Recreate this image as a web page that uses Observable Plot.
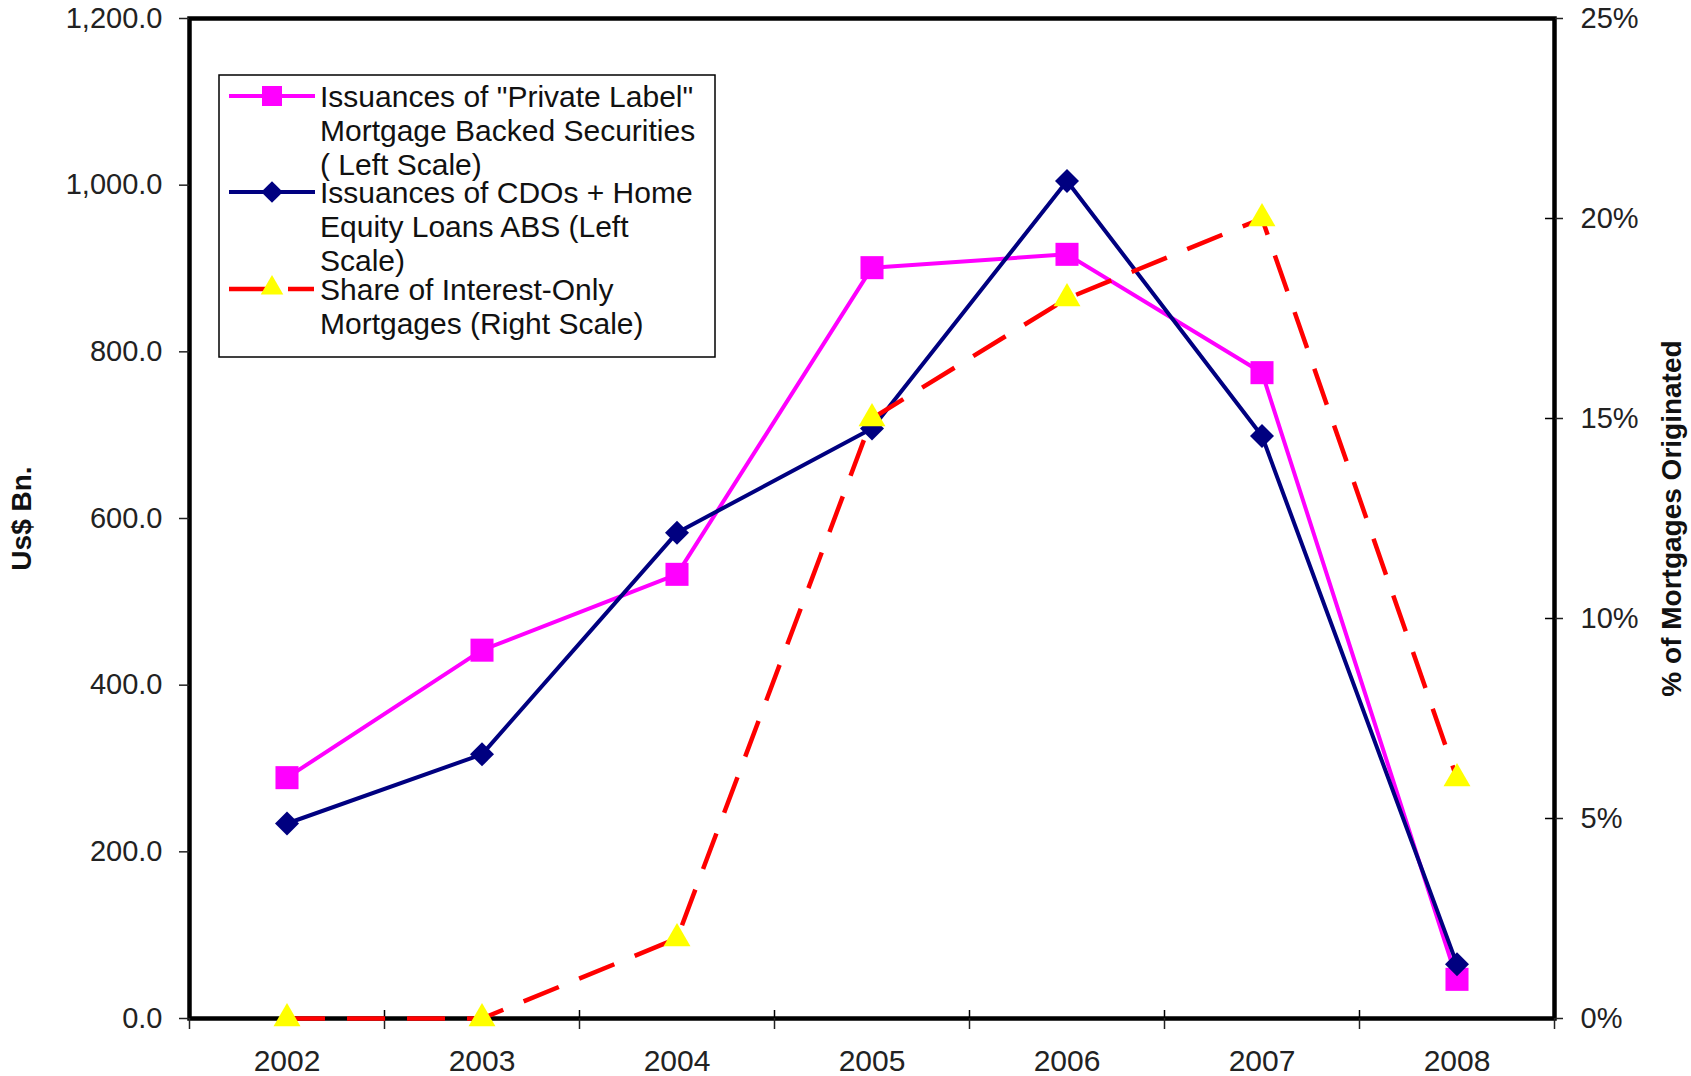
<!DOCTYPE html>
<html>
<head>
<meta charset="utf-8">
<script src="https://cdn.jsdelivr.net/npm/d3@7"></script>
<script src="https://cdn.jsdelivr.net/npm/@observablehq/plot@0.6"></script>
<style>
  html, body { margin: 0; padding: 0; background: #fff; }
  #wrap { position: relative; width: 1691px; height: 1076px; }
  #legend { position: absolute; left: 218px; top: 74px; }
</style>
</head>
<body>
<div id="wrap"><div id="chart"></div><svg id="legend" width="499" height="285"></svg></div>
<script>
// ---- data ----
const years = [2002, 2003, 2004, 2005, 2006, 2007, 2008];
const mbsIssuance = [289, 442, 533, 901, 917, 775, 47];          // US$ bn, left scale
const cdoHelIssuance = [234, 317, 583, 708, 1005, 699, 65];     // US$ bn, left scale
const interestOnlyShare = [0, 0, 2.0, 15.0, 18.0, 20.0, 6.0];   // % of mortgages, right scale
const leftTicks = [0, 200, 400, 600, 800, 1000, 1200];
const rightTicks = [0, 5, 10, 15, 20, 25];
const seriesLabels = [
  ["Issuances of \"Private Label\"", "Mortgage Backed Securities", "( Left Scale)"],
  ["Issuances of CDOs + Home", "Equity Loans ABS (Left", "Scale)"],
  ["Share of Interest-Only", "Mortgages (Right Scale)"]
];
const leftTitle = "Us$ Bn.";
const rightTitle = "% of Mortgages Originated";
const colors = {mbs: "#FF00FF", cdo: "#000080", io: "#FF0000", ioMarker: "#FFFF00"};

// ---- derived tables ----
const leftMax = d3.max(leftTicks), rightMax = d3.max(rightTicks);
const k = leftMax / rightMax; // right-scale units -> left-scale units
const mbs = years.map((y, i) => ({year: y, value: mbsIssuance[i]}));
const cdo = years.map((y, i) => ({year: y, value: cdoHelIssuance[i]}));
const io = years.map((y, i) => ({year: y, value: interestOnlyShare[i] * k}));
const boundaries = d3.range(years.length + 1).map(i => years[0] - 0.5 + i);
const xMin = boundaries[0], xMax = boundaries[boundaries.length - 1];
const rightTickPos = rightTicks.map(t => t * k);

const font = "'Liberation Sans', Arial, sans-serif";

const chart = Plot.plot({
  width: 1691, height: 1076,
  marginLeft: 189, marginRight: 137, marginTop: 18, marginBottom: 58,
  style: {fontFamily: font, fontSize: "29px", color: "#222", background: "white"},
  x: {domain: [xMin, xMax], axis: null},
  y: {domain: [0, leftMax], axis: null},
  marks: [
    Plot.frame({stroke: "black", strokeWidth: 4.5}),
    Plot.axisY(leftTicks, {anchor: "left", tickSize: 10, tickPadding: 17, strokeWidth: 1.5,
      tickFormat: d3.format(",.1f"), fontSize: 29, fill: "#222", label: null}),
    Plot.axisY(rightTickPos, {anchor: "right", tickSize: 8, tickPadding: 18, strokeWidth: 1.5,
      tickFormat: d => d3.format("d")(d / k) + "%", fontSize: 29, fill: "#222", label: null}),
    // inward halves of the right-axis ticks
    Plot.ruleY(rightTickPos, {x1: xMax, x2: xMax, insetLeft: -9, stroke: "black", strokeWidth: 1.5}),
    Plot.axisX(boundaries, {anchor: "bottom", tickSize: 11, strokeWidth: 1.5, tickFormat: () => "", label: null}),
    // upward halves of the category-boundary ticks
    Plot.ruleX(boundaries, {y1: 0, y2: 0, insetTop: -8, stroke: "black", strokeWidth: 1.5}),
    Plot.axisX(years, {anchor: "bottom", tickSize: 0, tickPadding: 31, tickFormat: d => String(d),
      fontSize: 30, fill: "#222", label: null}),
    Plot.text([leftTitle], {frameAnchor: "left", textAnchor: "middle", rotate: -90, dx: -167, text: d => d,
      fontWeight: "bold", fontSize: 28, fill: "#111"}),
    Plot.text([rightTitle], {frameAnchor: "right", textAnchor: "middle", rotate: -90, dx: 118, text: d => d,
      fontWeight: "bold", fontSize: 28, fill: "#111"}),
    Plot.line(mbs, {x: "year", y: "value", stroke: colors.mbs, strokeWidth: 4, strokeLinejoin: "miter"}),
    Plot.dot(mbs, {x: "year", y: "value", symbol: "square", r: 13, fill: colors.mbs, stroke: null}),
    Plot.line(cdo, {x: "year", y: "value", stroke: colors.cdo, strokeWidth: 4, strokeLinejoin: "miter"}),
    Plot.dot(cdo, {x: "year", y: "value", symbol: "diamond2", r: 10.8, fill: colors.cdo, stroke: null}),
    Plot.line(io, {x: "year", y: "value", stroke: colors.io, strokeWidth: 4.5,
      strokeDasharray: "38,22", strokeLinecap: "butt"}),
    Plot.dot(io, {x: "year", y: "value", symbol: "triangle", r: 10, fill: colors.ioMarker, stroke: null})
  ]
});
document.getElementById("chart").appendChild(chart);

// ---- legend (inside plot area, as in the reference) ----
const lg = d3.select("#legend");
lg.append("rect").attr("x", 1).attr("y", 1).attr("width", 496).attr("height", 282)
  .attr("fill", "white").attr("stroke", "black").attr("stroke-width", 1.5);
const entryY = [22, 118, 215];
const lineH = 34;
const sym = [
  {type: d3.symbolSquare, size: 400, fill: colors.mbs},
  {type: d3.symbolDiamond2, size: 300, fill: colors.cdo},
  {type: d3.symbolTriangle, size: 220, fill: colors.ioMarker}
];
const strokes = [colors.mbs, colors.cdo, colors.io];
seriesLabels.forEach((lines, i) => {
  const y = entryY[i];
  if (i < 2) {
    lg.append("line").attr("x1", 11).attr("x2", 97).attr("y1", y).attr("y2", y)
      .attr("stroke", strokes[i]).attr("stroke-width", 4);
  } else {
    lg.append("line").attr("x1", 11).attr("x2", 48).attr("y1", y).attr("y2", y)
      .attr("stroke", strokes[i]).attr("stroke-width", 4.5);
    lg.append("line").attr("x1", 70).attr("x2", 96).attr("y1", y).attr("y2", y)
      .attr("stroke", strokes[i]).attr("stroke-width", 4.5);
  }
  lg.append("path").attr("transform", `translate(54,${y + (i === 2 ? -1 : 0)})`)
    .attr("d", d3.symbol(sym[i].type, sym[i].size)()).attr("fill", sym[i].fill);
  lines.forEach((t, j) => {
    lg.append("text").attr("x", 102).attr("y", y + j * lineH).attr("dy", "0.35em")
      .attr("font-family", font).attr("font-size", 30).attr("fill", "#111").text(t);
  });
});
</script>
</body>
</html>
